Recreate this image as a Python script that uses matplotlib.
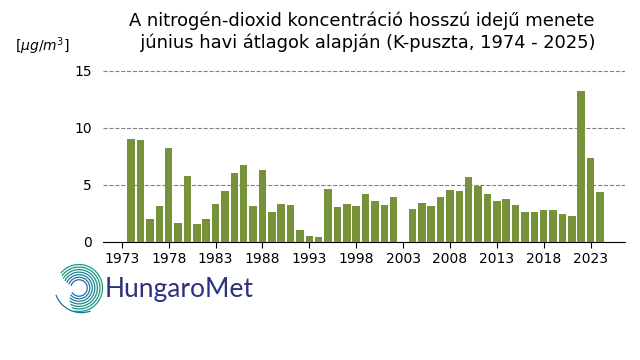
import numpy as np
import matplotlib
matplotlib.use('Agg')
import matplotlib.pyplot as plt
from matplotlib.patches import Arc

# yearly June averages of NO2 at K-puszta (2003 missing)
years = list(range(1974, 2025))
no2 = [9.07, 8.98, 2.0, 3.14, 8.2, 1.66, 5.76, 1.57, 2.0, 3.31,
       4.45, 6.02, 6.72, 3.14, 6.28, 2.62, 3.31, 3.23, 1.05, 0.52,
       0.44, 4.62, 3.05, 3.31, 3.14, 4.19, 3.58, 3.23, 3.92, np.nan,
       2.88, 3.40, 3.14, 3.92, 4.53, 4.45, 5.67, 4.88, 4.19, 3.58,
       3.75, 3.23, 2.62, 2.62, 2.79, 2.79, 2.44, 2.27, 13.26, 7.33,
       4.36]
tick_years = list(range(1973, 2024, 5))
y_ticks = [0, 5, 10, 15]

title = ('A nitrogén-dioxid koncentráció hosszú idejű menete\n'
         '  június havi átlagok alapján (K-puszta, 1974 - 2025)')

fig = plt.figure(figsize=(6.4, 3.6), dpi=100)
ax = fig.add_axes([0.161, 0.328, 0.816, 0.494])

ax.bar(years, no2, width=0.8, color='#76933c', zorder=3)

ax.set_xlim(1971.0, 2026.7)
ax.set_ylim(0, 15.6)
ax.set_xticks(tick_years)
ax.set_yticks(y_ticks)
ax.tick_params(axis='y', length=0, labelsize=10, pad=8)
ax.tick_params(axis='x', length=4, labelsize=10)
ax.yaxis.grid(True, linestyle='--', color='#808080', linewidth=0.8, zorder=0)
ax.set_axisbelow(True)
for s in ['top', 'right', 'left']:
    ax.spines[s].set_visible(False)
ax.spines['bottom'].set_color('black')

fig.text(0.566, 0.967, title, ha='center', va='top', fontsize=12.9,
         multialignment='center', linespacing=1.22)
fig.text(0.067, 0.872, r'[$\mu g/m^3$]', ha='center', va='center', fontsize=10)

# HungaroMet logo: spiral mark + wordmark
lax = fig.add_axes([52 / 640, 45 / 360, 54 / 640, 54 / 360])
lax.set_xlim(-1.15, 1.15)
lax.set_ylim(-1.15, 1.15)
lax.set_aspect('equal')
lax.axis('off')
radii = np.linspace(0.35, 1.0, 7)
cmap = matplotlib.colors.LinearSegmentedColormap.from_list('hm', ['#1f6fa8', '#15a07a'])
for i, r in enumerate(radii):
    c = cmap(i / (len(radii) - 1))
    lax.add_patch(Arc((0, 0), 2 * r, 2 * r, theta1=-150 + i * 8, theta2=165 - i * 4,
                      color=c, lw=0.9))
lax.add_patch(Arc((0.1, 0.1), 2.3, 2.3, theta1=200, theta2=290, color='#1f6fa8', lw=0.9))

fig.text(105 / 640, 71 / 360, 'HungaroMet', ha='left', va='center',
         fontsize=19, color='#2e3180', family='Lato')

fig.savefig('out.png', dpi=100)
